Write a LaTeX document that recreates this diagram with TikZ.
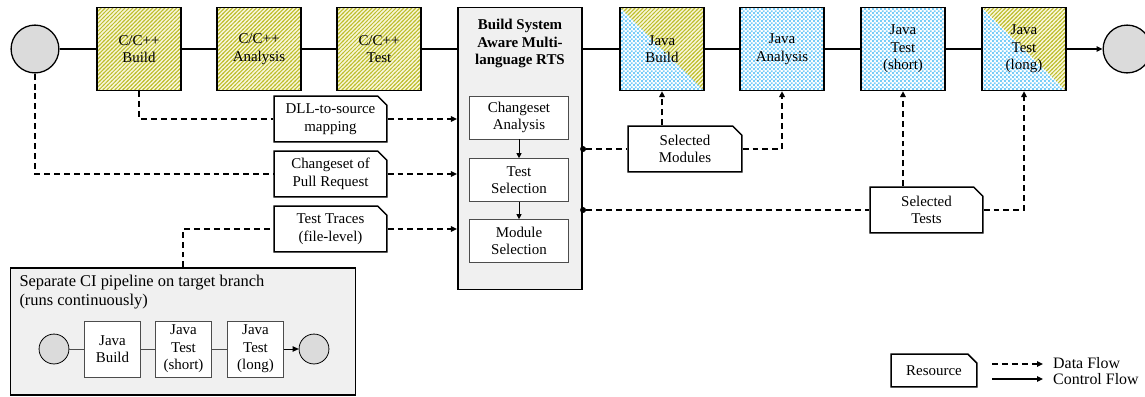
\documentclass[tikz,border=0pt]{standalone}
\usepackage{fontspec}
\setmainfont{Liberation Serif}
\usetikzlibrary{positioning, patterns, shapes.misc, arrows.meta}

\definecolor{hatchcol}{RGB}{190,190,45}
\definecolor{hatchbg}{RGB}{248,246,218}
\definecolor{dotcol}{RGB}{120,205,248}
\definecolor{panelgray}{gray}{0.94}
\definecolor{circgray}{gray}{0.86}

\pgfdeclarepatternformonly{bluedots}{\pgfqpoint{0pt}{0pt}}{\pgfqpoint{4pt}{4pt}}{\pgfqpoint{4pt}{4pt}}{
  \pgfpathrectangle{\pgfqpoint{0pt}{0pt}}{\pgfqpoint{2pt}{2pt}}
  \pgfpathrectangle{\pgfqpoint{2pt}{2pt}}{\pgfqpoint{1.6pt}{1.6pt}}
  \pgfusepath{fill}}
\pgfdeclarepatternformonly{hatch}{\pgfqpoint{-1pt}{-1pt}}{\pgfqpoint{5pt}{5pt}}{\pgfqpoint{4pt}{4pt}}{
  \pgfsetlinewidth{1pt}
  \pgfpathmoveto{\pgfqpoint{-0.5pt}{-0.5pt}}
  \pgfpathlineto{\pgfqpoint{4.5pt}{4.5pt}}
  \pgfusepath{stroke}}

\tikzset{
  stage/.style={draw, line width=1.6pt, minimum width=84pt, minimum height=83pt, align=center, inner sep=2pt},
  cstage/.style={stage, preaction={fill=hatchbg}, pattern=hatch, pattern color=hatchcol},
  jstage/.style={stage, preaction={fill=white}, pattern=bluedots, pattern color=dotcol},
  halfhatch/.style={path picture={
      \fill[hatchbg] (path picture bounding box.north west) -- (path picture bounding box.north east)
        -- (path picture bounding box.south east) -- cycle;
      \fill[pattern=hatch, pattern color=hatchcol] (path picture bounding box.north west)
        -- (path picture bounding box.north east) -- (path picture bounding box.south east) -- cycle;}},
  endpt/.style={circle, draw, line width=1.3pt, fill=circgray, minimum size=48pt, inner sep=0pt},
  substep/.style={draw=gray!60!black, line width=0.8pt, fill=white, minimum width=100pt, minimum height=43pt, align=center},
  ministep/.style={draw=gray!60!black, line width=0.8pt, fill=white, minimum width=57pt, minimum height=56pt, align=center, inner sep=1pt},
  resource/.style={chamfered rectangle, chamfered rectangle corners=north east, chamfered rectangle xsep=6pt,
    draw, line width=1.5pt, fill=white, minimum width=113pt, minimum height=46pt, align=center, inner sep=1pt},
  flow/.style={line width=1.7pt, dash pattern=on 6pt off 4pt},
  ctrl/.style={line width=1.2pt},
  tap/.style={circle, fill, inner sep=0pt, minimum size=6pt},
}

\begin{document}
\begin{tikzpicture}[x=1bp, y=-1bp, >={Triangle[length=6pt,width=5.5pt]},
    every node/.style={font=\fontsize{15}{17.5}\selectfont}]
  \useasboundingbox (0,0) rectangle (1145,396);

  % main pipeline
  \node[endpt] (start) at (35,49) {};
  \node[cstage] (cpp-build) at (139,49) {C/C++\\Build};
  \node[cstage] (cpp-ana) at (259,49) {C/C++\\Analysis};
  \node[cstage] (cpp-test) at (379,49) {C/C++\\Test};

  \node[draw, line width=1.6pt, fill=panelgray, minimum width=125pt, minimum height=283pt] (rts) at (520,148.5) {};
  \node[font=\fontsize{15}{17.5}\selectfont\bfseries, align=center, below=9pt of rts.north] (rts-title)
    {Build System\\Aware Multi-\\language RTS};
  \node[substep] (cs-ana) at (519,117.5) {Changeset\\Analysis};
  \node[substep] (test-sel) at (519,180) {Test\\Selection};
  \node[substep] (mod-sel) at (519,241) {Module\\Selection};

  \node[jstage, halfhatch] (java-build) at (662,49) {Java\\Build};
  \node[jstage] (java-ana) at (782,49) {Java\\Analysis};
  \node[jstage] (java-short) at (903,49) {Java\\Test\\(short)};
  \node[jstage, halfhatch] (java-long) at (1024,49) {Java\\Test\\(long)};
  \node[endpt, right=36pt of java-long] (finish) {};

  \draw[ctrl] (start) -- (cpp-build);
  \draw[ctrl] (cpp-build) -- (cpp-ana);
  \draw[ctrl] (cpp-ana) -- (cpp-test);
  \draw[ctrl] (cpp-test) -- (cpp-test -| rts.west);
  \draw[ctrl] (rts.east |- java-build) -- (java-build);
  \draw[ctrl] (java-build) -- (java-ana);
  \draw[ctrl] (java-ana) -- (java-short);
  \draw[ctrl] (java-short) -- (java-long);
  \draw[ctrl, ->] (java-long) -- (finish);

  \draw[->, line width=0.8pt, >={Triangle[length=5pt,width=5pt]}] (cs-ana) -- (test-sel);
  \draw[->, line width=0.8pt, >={Triangle[length=5pt,width=5pt]}] (test-sel) -- (mod-sel);

  % separate pipeline
  \node[draw, line width=1.6pt, fill=panelgray, minimum width=346pt, minimum height=127pt] (ci) at (183,331.5) {};
  \node[anchor=north west, align=left, font=\fontsize{16.5}{19}\selectfont] (ci-title) at (16,272)
    {Separate CI pipeline on target branch\\(runs continuously)};
  \node[endpt, minimum size=30pt, line width=0.8pt] (ci-start) at (54,349) {};
  \node[ministep] (ci-build) at (112.5,349) {Java\\Build};
  \node[ministep] (ci-short) at (183.5,349) {Java\\Test\\(short)};
  \node[ministep] (ci-long) at (255.5,349) {Java\\Test\\(long)};
  \node[endpt, minimum size=30pt, line width=0.8pt] (ci-end) at (314,349) {};
  \draw[gray!60!black, line width=0.8pt] (ci-start) -- (ci-build);
  \draw[gray!60!black, line width=0.8pt] (ci-build) -- (ci-short);
  \draw[gray!60!black, line width=0.8pt] (ci-short) -- (ci-long);
  \draw[line width=0.8pt, ->] (ci-long) -- (ci-end);

  % resources and data flow
  \node[resource] (dll) at (330.5,119) {DLL-to-source\\mapping};
  \node[resource] (pr) at (330.5,174) {Changeset of\\Pull Request};
  \node[resource] (traces) at (330.5,229) {Test Traces\\(file-level)};
  \node[resource, minimum width=114pt] (sel-mod) at (685,149) {Selected\\Modules};
  \node[resource] (sel-test) at (926.5,210) {Selected\\Tests};

  \node[tap] (tap-mod) at (rts.east |- sel-mod) {};
  \node[tap] (tap-test) at (rts.east |- sel-test) {};

  \draw[flow] (cpp-build.south) |- (dll.west);
  \draw[flow, ->] (dll.east) -- (rts.west |- dll.east);
  \draw[flow] (start.south) |- (pr.west);
  \draw[flow, ->] (pr.east) -- (rts.west |- pr.east);
  \draw[flow] (ci.north) |- (traces.west);
  \draw[flow, ->] (traces.east) -- (rts.west |- traces.east);

  \draw[flow] (tap-mod) -- (sel-mod.west);
  \draw[flow, ->] (sel-mod.east) -| (java-ana.south);
  \draw[flow, ->] (sel-mod.north -| java-build.south) -- (java-build.south);
  \draw[flow] (tap-test) -- (sel-test.west);
  \draw[flow, ->] (sel-test.east) -| (java-long.south);
  \draw[flow, ->] (sel-test.north -| java-short.south) -- (java-short.south);

  % legend
  \node[resource, minimum width=86pt, minimum height=33pt] (lg-res) at (934,370.5) {Resource};
  \coordinate (lg-a) at (992,364);
  \coordinate (lg-b) at (1043,364);
  \coordinate (lg-c) at (992,379);
  \coordinate (lg-d) at (1043,379);
  \draw[flow, ->] (lg-a) -- (lg-b);
  \draw[ctrl, ->] (lg-c) -- (lg-d);
  \node[anchor=west, inner sep=0pt, font=\fontsize{16}{18}\selectfont] (lg-data) at (1053,363) {Data Flow};
  \node[anchor=west, inner sep=0pt, font=\fontsize{16}{18}\selectfont] (lg-ctrl) at (1053,379) {Control Flow};
\end{tikzpicture}
\end{document}
